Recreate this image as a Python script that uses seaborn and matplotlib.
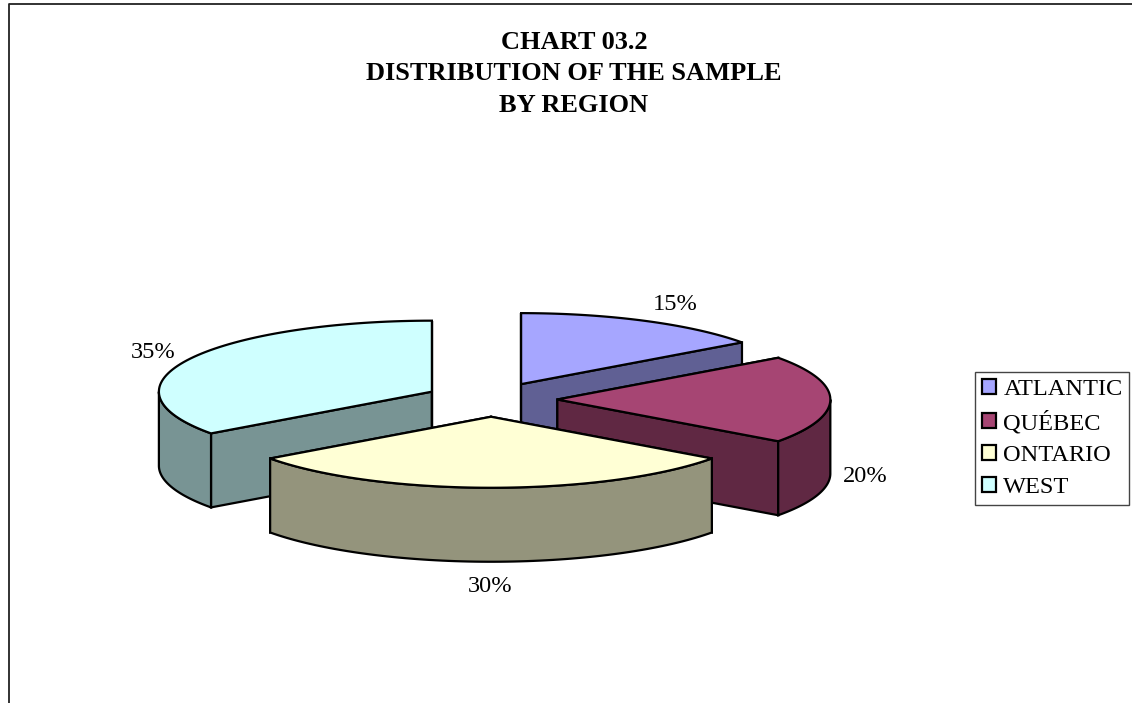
import numpy as np
import seaborn as sns
import matplotlib.pyplot as plt
from matplotlib.patches import Patch, Polygon

regions = ['ATLANTIC', 'QUÉBEC', 'ONTARIO', 'WEST']
shares = [15, 20, 30, 35]
top_colors = ['#A6A6FF', '#A64573', '#FFFFD5', '#CFFFFF']
title = 'CHART 03.2\nDISTRIBUTION OF THE SAMPLE\nBY REGION'

# pie geometry in pixels
cx, cy = 491, 399.5
rx, ry = 273, 71
depth = 74
explode = 0.243
shade = 0.58
edge = 1.6
label_pos = [(675, 305), (865, 477), (490, 587), (153, 353)]

sns.set_theme(style='white')
plt.rcParams['font.family'] = ['Liberation Serif', 'DejaVu Serif']
palette = sns.color_palette(top_colors)

fig, ax = plt.subplots(figsize=(11.32, 7.03), dpi=100)
ax.set_position([0, 0, 1, 1])
ax.set_xlim(0, 1132)
ax.set_ylim(703, 0)
ax.axis('off')

# page border, only left and top are inside the crop
ax.plot([8.5, 8.5, 1132], [703, 3.5, 3.5], color='#222222', lw=1.3)


def rim(x0, y0, a1, a2):
    t = np.radians(np.linspace(a1, a2, 80))
    return np.column_stack([x0 + rx * np.sin(t), y0 - ry * np.cos(t)])


def face(pts, color, z):
    ax.add_patch(Polygon(pts, closed=True, facecolor=color, edgecolor='black',
                         lw=edge, joinstyle='miter', zorder=z))


ends = np.cumsum(shares) * 3.6
starts = ends - np.array(shares) * 3.6

# back to front: west, atlantic, quebec, ontario
for z, i in enumerate([3, 0, 1, 2]):
    a1, a2 = starts[i], ends[i]
    mid = np.radians((a1 + a2) / 2)
    x0 = cx + explode * rx * np.sin(mid)
    y0 = cy - explode * ry * np.cos(mid)
    top = palette[i]
    dark = tuple(c * shade for c in top)
    down = np.array([0, depth])

    for a in (a1, a2):
        corner = rim(x0, y0, a, a)[0]
        apex = np.array([x0, y0])
        face([apex, corner, corner + down, apex + down], dark, z + 2)

    r1, r2 = max(a1, 90), min(a2, 270)
    if r1 < r2:
        arc = rim(x0, y0, r1, r2)
        face(np.vstack([arc, arc[::-1] + down]), dark, z + 2)

    face(np.vstack([[x0, y0], rim(x0, y0, a1, a2)]), top, z + 2)

for s, (x, y) in zip(shares, label_pos):
    ax.text(x, y, f'{s}%', ha='center', va='center', fontsize=17.6, color='black')

ax.text(574, 74, title, ha='center', va='center', fontsize=19,
        fontweight='bold', color='black', linespacing=1.45)

handles = [Patch(facecolor=c, edgecolor='black', lw=1.6) for c in palette]
ax.legend(handles, regions, loc='center left', bbox_to_anchor=(975, 438.5),
          bbox_transform=ax.transData, fontsize=17.6, labelcolor='black',
          frameon=True, fancybox=False, edgecolor='#444444', framealpha=1,
          borderpad=0.28, labelspacing=0.44, handlelength=0.58, handleheight=0.58,
          handletextpad=0.3, borderaxespad=0)

plt.savefig('out.png', dpi=100)
